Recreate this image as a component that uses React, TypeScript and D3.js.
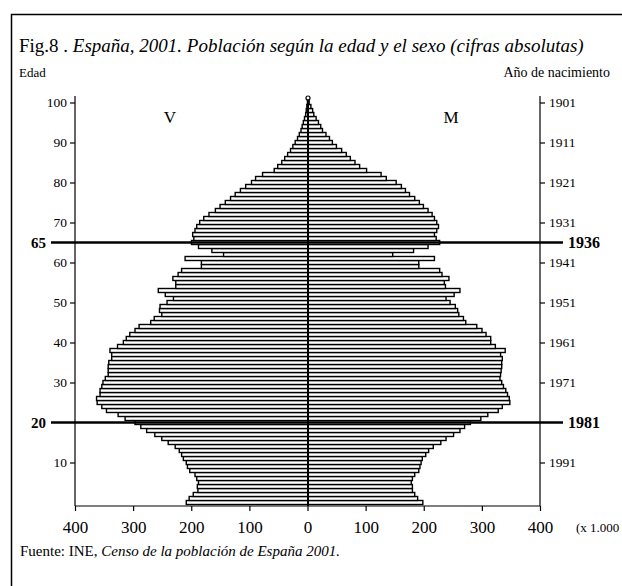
import React, { useEffect, useRef } from "react";
import * as d3 from "d3";

// población por edad (miles), edades 0..100
const ages = d3.range(0, 101);
const varones = [
  209, 204, 197, 189, 190, 188, 191, 194, 203, 207, 209, 214, 217, 221, 228, 240, 251, 263, 277, 287,
  297, 314, 326, 346, 354, 362, 363, 357, 357, 354, 352, 348, 343, 343, 343, 342, 337, 337, 340, 327,
  317, 312, 306, 297, 290, 270, 264, 251, 255, 254, 242, 231, 245, 257, 227, 227, 232, 223, 217, 183,
  183, 211, 145, 165, 188, 200, 196, 198, 194, 191, 186, 179, 170, 159, 151, 142, 133, 125, 116, 107,
  97, 90, 78, 58, 52, 45, 40, 35, 30, 26, 22, 18, 15, 12, 10, 8, 6, 4, 3, 2, 1,
];
const mujeres = [
  198, 189, 184, 180, 180, 178, 180, 184, 191, 193, 195, 197, 203, 208, 216, 229, 238, 251, 262, 270,
  280, 298, 310, 328, 335, 348, 347, 344, 341, 337, 334, 331, 332, 333, 334, 334, 335, 332, 340, 323,
  315, 315, 307, 300, 291, 272, 268, 260, 258, 254, 245, 238, 252, 262, 237, 235, 243, 231, 227, 191,
  191, 218, 146, 182, 207, 227, 221, 218, 222, 225, 222, 218, 214, 207, 199, 192, 184, 175, 168, 161,
  152, 135, 126, 101, 89, 81, 73, 66, 58, 49, 42, 37, 31, 25, 22, 18, 14, 10, 8, 5, 2,
];
const ageTicks = [10, 20, 30, 40, 50, 60, 70, 80, 90, 100];
const yearTicks = [1991, 1981, 1971, 1961, 1951, 1941, 1931, 1921, 1911, 1901];
const xTicks = [-400, -300, -200, -100, 0, 100, 200, 300, 400];
const markAges = [65, 20];
const markYears = ["1936", "1981"];

const serif = "Liberation Serif, Times New Roman, serif";

export default function App() {
  const ref = useRef<SVGSVGElement>(null);

  useEffect(() => {
    const svg = d3.select(ref.current);
    svg.selectAll("*").remove();

    const cx = 308;
    const axisLeftX = 75;
    const axisRightX = 540;
    const axisBottomY = 506;

    const y = d3.scaleLinear().domain([0, 100]).range([502.5, 102.5]);
    const xL = d3.scaleLinear().domain([0, 400]).range([cx, axisLeftX]);
    const xR = d3.scaleLinear().domain([0, 400]).range([cx, axisRightX]);
    const xAxis = d3.scaleLinear().domain([-400, 400]).range([axisLeftX, axisRightX]);

    // marco
    svg
      .append("rect")
      .attr("x", 11.5)
      .attr("y", 14.5)
      .attr("width", 700)
      .attr("height", 700)
      .attr("fill", "none")
      .attr("stroke", "#000")
      .attr("stroke-width", 1.5);

    // título
    const title = svg
      .append("text")
      .attr("x", 19)
      .attr("y", 52)
      .attr("font-family", serif)
      .attr("font-size", 19);
    title.append("tspan").text("Fig.8 . ");
    title
      .append("tspan")
      .attr("font-style", "italic")
      .text("España, 2001. Población según la edad y el sexo (cifras absolutas)");

    svg
      .append("text")
      .attr("x", 19)
      .attr("y", 77)
      .attr("font-family", serif)
      .attr("font-size", 13)
      .text("Edad");
    svg
      .append("text")
      .attr("x", 610)
      .attr("y", 77)
      .attr("text-anchor", "end")
      .attr("font-family", serif)
      .attr("font-size", 14)
      .text("Año de nacimiento");

    // barras
    const g = svg.append("g");
    g.selectAll("rect.v")
      .data(ages)
      .join("rect")
      .attr("class", "v")
      .attr("x", (a) => xL(varones[a]))
      .attr("y", (a) => y(a + 0.5))
      .attr("width", (a) => cx - xL(varones[a]))
      .attr("height", (a) => y(a - 0.5) - y(a + 0.5))
      .attr("fill", "#fff")
      .attr("stroke", "#000")
      .attr("stroke-width", 1.4);
    g.selectAll("rect.m")
      .data(ages)
      .join("rect")
      .attr("class", "m")
      .attr("x", cx)
      .attr("y", (a) => y(a + 0.5))
      .attr("width", (a) => xR(mujeres[a]) - cx)
      .attr("height", (a) => y(a - 0.5) - y(a + 0.5))
      .attr("fill", "#fff")
      .attr("stroke", "#000")
      .attr("stroke-width", 1.4);

    // eje central
    svg
      .append("line")
      .attr("x1", cx)
      .attr("x2", cx)
      .attr("y1", 99)
      .attr("y2", axisBottomY)
      .attr("stroke", "#000")
      .attr("stroke-width", 2);
    svg
      .append("circle")
      .attr("cx", cx)
      .attr("cy", 98)
      .attr("r", 2)
      .attr("fill", "#fff")
      .attr("stroke", "#000")
      .attr("stroke-width", 1.2);

    // ejes
    const axisStyle = (sel: any) => {
      sel.attr("font-family", serif);
      sel.select(".domain").remove();
      sel.selectAll("line").attr("stroke", "#000").attr("stroke-width", 1.2);
      sel.selectAll("text").attr("font-family", serif).attr("fill", "#000");
    };

    [axisLeftX, axisRightX].forEach((x) => {
      svg
        .append("line")
        .attr("x1", x)
        .attr("x2", x)
        .attr("y1", 96)
        .attr("y2", axisBottomY)
        .attr("stroke", "#000")
        .attr("stroke-width", 1.2);
    });
    svg
      .append("line")
      .attr("x1", axisLeftX)
      .attr("x2", axisRightX)
      .attr("y1", axisBottomY)
      .attr("y2", axisBottomY)
      .attr("stroke", "#000")
      .attr("stroke-width", 1.2);

    svg
      .append("g")
      .attr("transform", `translate(${axisLeftX},0)`)
      .call(
        d3
          .axisLeft(y)
          .tickValues(ageTicks.filter((t) => t !== 20))
          .tickSize(5)
          .tickPadding(3)
      )
      .call(axisStyle)
      .selectAll("text")
      .attr("font-size", 13.5);

    svg
      .append("g")
      .attr("transform", `translate(${axisRightX},0)`)
      .call(
        d3
          .axisRight(y)
          .tickValues(ageTicks.filter((t) => t !== 20))
          .tickFormat((d) => String(yearTicks[ageTicks.indexOf(+d)]))
          .tickSize(5)
          .tickPadding(4)
      )
      .call(axisStyle)
      .selectAll("text")
      .attr("font-size", 13.5);

    svg
      .append("g")
      .attr("transform", `translate(0,${axisBottomY})`)
      .call(
        d3
          .axisBottom(xAxis)
          .tickValues(xTicks)
          .tickFormat((d) => String(Math.abs(+d)))
          .tickSize(5)
          .tickPadding(10)
      )
      .call(axisStyle)
      .selectAll("text")
      .attr("font-size", 17);

    svg
      .append("text")
      .attr("x", 576)
      .attr("y", 532)
      .attr("font-family", serif)
      .attr("font-size", 13)
      .text("(x 1.000");

    // líneas de referencia 65 y 20
    markAges.forEach((a, i) => {
      svg
        .append("line")
        .attr("x1", 51)
        .attr("x2", 563)
        .attr("y1", y(a))
        .attr("y2", y(a))
        .attr("stroke", "#000")
        .attr("stroke-width", 2.5);
      svg
        .append("text")
        .attr("x", 46)
        .attr("y", y(a))
        .attr("dy", "0.35em")
        .attr("text-anchor", "end")
        .attr("font-family", serif)
        .attr("font-weight", "bold")
        .attr("font-size", 15)
        .text(String(a));
      svg
        .append("text")
        .attr("x", 568)
        .attr("y", y(a))
        .attr("dy", "0.35em")
        .attr("font-family", serif)
        .attr("font-weight", "bold")
        .attr("font-size", 16)
        .text(markYears[i]);
    });

    // V / M
    svg
      .append("text")
      .attr("x", 170)
      .attr("y", 123)
      .attr("text-anchor", "middle")
      .attr("font-family", serif)
      .attr("font-size", 17)
      .text("V");
    svg
      .append("text")
      .attr("x", 451)
      .attr("y", 123)
      .attr("text-anchor", "middle")
      .attr("font-family", serif)
      .attr("font-size", 17)
      .text("M");

    // fuente
    const src = svg
      .append("text")
      .attr("x", 20)
      .attr("y", 556)
      .attr("font-family", serif)
      .attr("font-size", 15);
    src.append("tspan").text("Fuente: INE, ");
    src
      .append("tspan")
      .attr("font-style", "italic")
      .text("Censo de la población de España 2001.");
  }, []);

  return (
    <svg
      ref={ref}
      width={622}
      height={586}
      style={{ position: "absolute", left: 0, top: 0, background: "#fff" }}
    ></svg>
  );
}
